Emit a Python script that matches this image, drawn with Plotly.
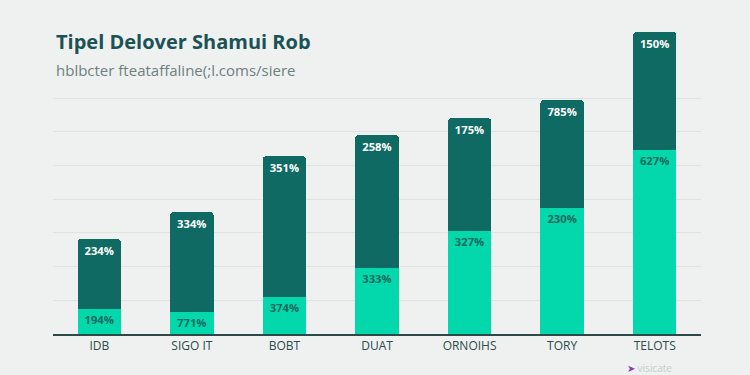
import plotly.graph_objects as go

categories = ["IDB", "SIGO IT", "BOBT", "DUAT", "ORNOIHS", "TORY", "TELOTS"]
light_values = [7.4, 6.5, 11.0, 19.6, 30.6, 37.4, 54.6]
dark_values = [20.8, 29.7, 41.8, 39.5, 33.5, 32.0, 35.0]
light_labels = ["194%", "771%", "374%", "333%", "327%", "230%", "627%"]
dark_labels = ["234%", "334%", "351%", "258%", "175%", "785%", "150%"]

DARK = "#0f6a63"
LIGHT = "#02d8ab"
BG = "#eef1f0"

fig = go.Figure()
fig.add_trace(go.Bar(
    x=categories, y=light_values, text=light_labels,
    marker=dict(color=LIGHT, line=dict(width=0)),
    textposition="inside", insidetextanchor="end",
    textfont=dict(color="#15695e", size=12, family="Open Sans"),
    texttemplate="<b>%{text}</b>", width=0.47, hoverinfo="skip",
))
fig.add_trace(go.Bar(
    x=categories, y=dark_values, text=dark_labels,
    marker=dict(color=DARK, line=dict(width=0)),
    textposition="inside", insidetextanchor="end",
    textfont=dict(color="white", size=12, family="Open Sans"),
    texttemplate="<b>%{text}</b>", width=0.47, hoverinfo="skip",
))

fig.update_layout(
    barmode="stack",
    barcornerradius=4,
    width=750, height=375,
    margin=dict(l=53, r=49, t=24, b=41),
    paper_bgcolor=BG, plot_bgcolor=BG,
    showlegend=False,
    uniformtext=dict(mode="show", minsize=10),
    xaxis=dict(
        range=[-0.5, 6.5], showline=True, linecolor="#2c4a48", linewidth=2,
        ticks="", tickfont=dict(family="Open Sans", size=12, color="#2d4a4a"),
        showgrid=False, zeroline=False,
    ),
    yaxis=dict(
        range=[0, 92], tickvals=[10, 20, 30, 40, 50, 60, 70],
        showticklabels=False, showgrid=True, gridcolor="#dfe4e2", gridwidth=1,
        zeroline=False,
    ),
    annotations=[
        dict(text="<b>Tipel Delover Shamui Rob</b>", xref="paper", yref="paper",
             x=0.002, y=0.945, xanchor="left", yanchor="middle", showarrow=False,
             font=dict(family="Open Sans", size=20, color="#1b5256")),
        dict(text="hblbcter fteataffaline(;l.coms/siere", xref="paper", yref="paper",
             x=0.002, y=0.852, xanchor="left", yanchor="middle", showarrow=False,
             font=dict(family="Open Sans", size=15, color="#6f7f80")),
        dict(text="<span style='color:#8a3fb0'>➤</span> visicate", xref="paper", yref="paper",
             x=0.921, y=-0.11, xanchor="center", yanchor="middle", showarrow=False,
             font=dict(family="Open Sans", size=10, color="#c4cccc")),
    ],
)

fig.write_html("out.html")
